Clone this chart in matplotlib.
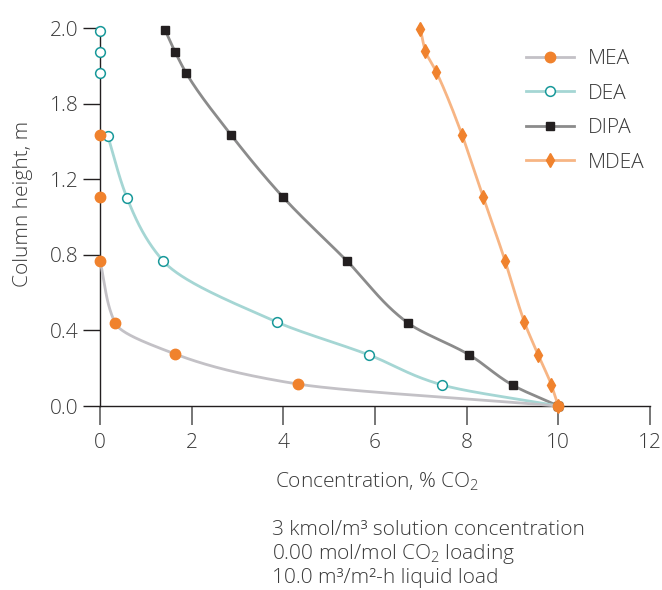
import numpy as np
import matplotlib
matplotlib.use('Agg')
import matplotlib.pyplot as plt

# values (x: % CO2, y: column height position)
MEA_X = [0.0, 0.0, 0.0, 0.33, 1.64, 4.32, 10.0]
MEA_Y = [1.434, 1.106, 0.767, 0.439, 0.275, 0.116, 0.0]
DEA_X = [0.0, 0.0, 0.0, 0.17, 0.59, 1.38, 3.86, 5.87, 7.47, 10.0]
DEA_Y = [1.984, 1.873, 1.762, 1.429, 1.101, 0.767, 0.444, 0.270, 0.111, 0.0]
DIPA_X = [1.42, 1.64, 1.88, 2.86, 3.99, 5.39, 6.72, 8.06, 9.00, 10.0]
DIPA_Y = [1.989, 1.873, 1.762, 1.434, 1.106, 0.767, 0.439, 0.270, 0.111, 0.0]
MDEA_X = [6.99, 7.10, 7.34, 7.90, 8.36, 8.84, 9.26, 9.56, 9.85, 10.0]
MDEA_Y = [1.995, 1.878, 1.767, 1.434, 1.106, 0.767, 0.444, 0.270, 0.111, 0.0]

Y_TICKS = [0.0, 0.4, 0.8, 1.2, 1.6, 2.0]
Y_TICK_LABELS = ['0.0', '0.4', '0.8', '1.2', '1.8', '2.0']
X_TICKS = [0, 2, 4, 6, 8, 10, 12]

NOTES = ['3 kmol/m\u00b3 solution concentration',
         '0.00 mol/mol CO$_2$ loading',
         '10.0 m\u00b3/m\u00b2-h liquid load']

FONT = 'Open Sans'
FS = 15
TEXT_COLOR = '#3a3a3a'
plt.rcParams['font.family'] = [FONT, 'DejaVu Sans']
plt.rcParams['font.weight'] = 'light'
plt.rcParams['mathtext.fontset'] = 'custom'
plt.rcParams['mathtext.rm'] = FONT + ':light'
plt.rcParams['mathtext.it'] = FONT + ':light'


def pchip(xk, yk, xs):
    """monotone cubic (Fritsch-Carlson) through sorted knots"""
    xk = np.asarray(xk, float)
    yk = np.asarray(yk, float)
    h = np.diff(xk)
    d = np.diff(yk) / h
    m = np.zeros_like(xk)
    for i in range(1, len(xk) - 1):
        if d[i - 1] * d[i] > 0:
            w1 = 2 * h[i] + h[i - 1]
            w2 = h[i] + 2 * h[i - 1]
            m[i] = (w1 + w2) / (w1 / d[i - 1] + w2 / d[i])
    m[0] = d[0]
    m[-1] = d[-1]
    idx = np.clip(np.searchsorted(xk, xs) - 1, 0, len(xk) - 2)
    t = (xs - xk[idx]) / h[idx]
    h00 = 2 * t**3 - 3 * t**2 + 1
    h10 = t**3 - 2 * t**2 + t
    h01 = -2 * t**3 + 3 * t**2
    h11 = t**3 - t**2
    return (h00 * yk[idx] + h10 * h[idx] * m[idx]
            + h01 * yk[idx + 1] + h11 * h[idx] * m[idx + 1])


def smooth(xs, ys):
    # curves are x = f(height), so interpolate along y
    order = np.argsort(ys)
    yk = np.asarray(ys)[order]
    xk = np.asarray(xs)[order]
    yy = np.linspace(yk[0], yk[-1], 400)
    return pchip(yk, xk, yy), yy


fig = plt.figure(figsize=(6.62, 5.90), dpi=100)
ax = fig.add_axes([100 / 662, 1 - 406 / 590, 550 / 662, 378 / 590])

# (x, y, name, line colour, marker style, zorder, first point of the curve)
series = [
    (MEA_X, MEA_Y, 'MEA', '#c3c1c6',
     dict(marker='o', ms=7.5, mfc='#f0822d', mec='#f0822d'), 6, 2),
    (DEA_X, DEA_Y, 'DEA', '#a5d6d4',
     dict(marker='o', ms=7, mfc='white', mec='#18999a', mew=1.1), 4, 3),
    (DIPA_X, DIPA_Y, 'DIPA', '#8b8b8b',
     dict(marker='s', ms=6, mfc='#231f20', mec='#231f20'), 3, 0),
    (MDEA_X, MDEA_Y, 'MDEA', '#f7b584',
     dict(marker='d', ms=7, mfc='#f0822d', mec='#f0822d'), 5, 0),
]
for xs, ys, name, lc, mk, z, start in series:
    sx, sy = smooth(xs[start:], ys[start:])
    ax.plot(sx, sy, color=lc, lw=2.0, zorder=z, clip_on=False)
    ax.plot(xs, ys, ls='none', zorder=z + 0.5, clip_on=False, **mk)
    ax.plot([], [], color=lc, lw=2.0, label=name, **mk)

ax.set_xlim(0, 12)
ax.set_ylim(0, 2.0)
ax.set_xticks(X_TICKS)
ax.set_yticks(Y_TICKS)
ax.set_yticklabels(Y_TICK_LABELS)
ax.spines['top'].set_visible(False)
ax.spines['right'].set_visible(False)
for s in ('left', 'bottom'):
    ax.spines[s].set_color('#231f20')
    ax.spines[s].set_linewidth(1.0)
    ax.spines[s].set_zorder(2)
ax.tick_params(axis='y', direction='out', length=12.5, width=1.0, color='#231f20',
               labelsize=FS, labelcolor=TEXT_COLOR, pad=3)
ax.tick_params(axis='x', direction='out', length=13.5, width=1.3, color='#6b6b6b',
               labelsize=FS, labelcolor=TEXT_COLOR, pad=6)

fig.text(377 / 662, 1 - 488 / 590, 'Concentration, % CO$_2$', fontsize=FS,
         color=TEXT_COLOR, ha='center', va='baseline')
fig.text(23 / 662, 1 - 204 / 590, 'Column height, m', fontsize=FS, rotation=90,
         color=TEXT_COLOR, ha='center', va='center')

leg = ax.legend(loc='upper left', bbox_to_anchor=(526 / 662, 1 - 49 / 590),
                bbox_transform=fig.transFigure, frameon=False, borderpad=0,
                borderaxespad=0, fontsize=FS, handlelength=2.3,
                handletextpad=0.65, labelspacing=0.7, labelcolor=TEXT_COLOR)

for i, line in enumerate(NOTES):
    fig.text(272 / 662, 1 - (535 + 24 * i) / 590, line, fontsize=FS,
             color=TEXT_COLOR, ha='left', va='baseline')

fig.savefig('out.png', dpi=100)
plt.close()
